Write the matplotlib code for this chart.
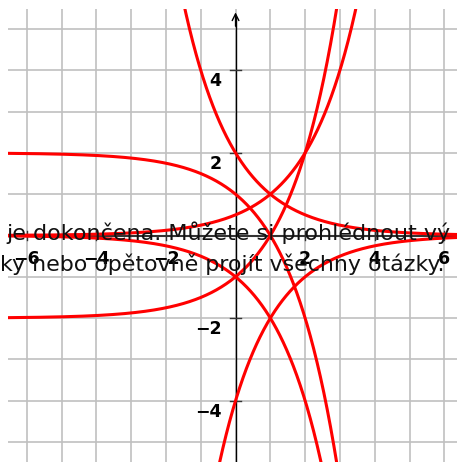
import numpy as np
import matplotlib.pyplot as plt

# curves y = a * 2**(k * (x - h)) + c
curve_a = [1, 1, -1, 1, -1, -1]
curve_k = [-1, 1, 1, 1, 1, -1]
curve_h = [1, 1, 0, 0, 0, 2]
curve_c = [0, 0, 2, -2, 0, 0]

x_ticks = [-6, -4, -2, 2, 4, 6]
y_ticks = [-4, -2, 2, 4]
x_labels = ["\u22126", "\u22124", "\u22122", "2", "4", "6"]
y_labels = ["\u22124", "\u22122", "2", "4"]

line1 = "je dokončena. Můžete si prohlédnout vý"
line2 = "ky nebo opětovně projít všechny otázky."

W, H = 457, 462
fig = plt.figure(figsize=(W / 100, H / 100), dpi=100)
fig.patch.set_facecolor('white')

# plot area starts at pixel (8, 9) and runs past the right/bottom edges
ax = fig.add_axes([8 / W, 0, (W - 8) / W, (H - 9) / H])
ax.set_xlim(-6.54, 6.365)
ax.set_ylim(-5.484, 5.484)
ax.axis('off')

# grid
for gx in range(-6, 7):
    ax.axvline(gx, color='#c0c0c0', lw=1.2, zorder=1)
for gy in range(-5, 6):
    ax.axhline(gy, color='#c0c0c0', lw=1.2, zorder=1)

# overlay text (behind curves)
fig.text(6 / W, 1 - 240 / H, line1, fontsize=16, color='#111111',
         va='baseline', ha='left', zorder=2)
fig.text(0 / W, 1 - 271 / H, line2, fontsize=15.9, color='#111111',
         va='baseline', ha='left', zorder=2)

# axes
ax.axhline(0, color='#333333', lw=1.5, zorder=4)
ax.plot([0, 0], [-5.484, 5.3], color='black', lw=1.0, zorder=4)
ax.annotate('', xy=(0, 5.47), xytext=(0, 5.0),
            arrowprops=dict(arrowstyle='->', color='black', lw=1.0,
                            mutation_scale=12), zorder=4)

# ticks
for tx in x_ticks:
    ax.plot([tx, tx], [-0.12, 0.12], color='#333333', lw=1.0, zorder=4)
for ty in y_ticks:
    ax.plot([-0.15, 0.15], [ty, ty], color='#333333', lw=1.0, zorder=4)

# curves
xs = np.linspace(-6.54, 6.4, 1200)
for a, k, h, c in zip(curve_a, curve_k, curve_h, curve_c):
    ys = a * 2.0 ** (k * (xs - h)) + c
    ys = np.where(np.abs(ys) > 8, np.nan, ys)
    ax.plot(xs, ys, color='#ff0000', lw=2.2, zorder=5, solid_capstyle='round')

# tick labels
for tx, lab in zip(x_ticks, x_labels):
    ax.annotate(lab, xy=(tx, 0), xytext=(0, -15), textcoords='offset pixels',
                ha='center', va='top', fontsize=12.5, fontweight='bold',
                color='black', zorder=6)
for ty, lab in zip(y_ticks, y_labels):
    ax.annotate(lab, xy=(0, ty), xytext=(-14, -2), textcoords='offset pixels',
                ha='right', va='top', fontsize=12.5, fontweight='bold',
                color='black', zorder=6)

fig.savefig('out.png', dpi=100)
